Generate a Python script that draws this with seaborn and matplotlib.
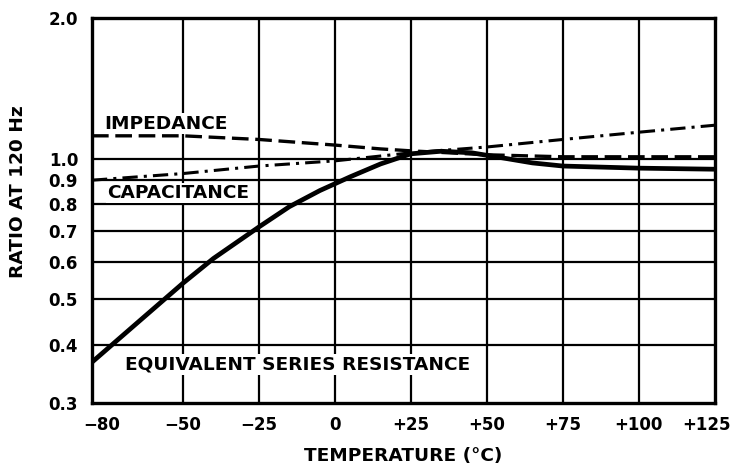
import numpy as np
import pandas as pd
import matplotlib
matplotlib.use('Agg')
import matplotlib.pyplot as plt
import matplotlib.transforms as mtransforms
import seaborn as sns

# ── Data ──────────────────────────────────────────────────────────────────────
esr_temp  = [-80, -70, -60, -50, -40, -25, -15, -5, 5, 15, 25, 35, 45, 55, 65, 75, 100, 125]
esr_ratio = [0.367, 0.418, 0.476, 0.542, 0.612, 0.715, 0.79, 0.855, 0.915, 0.975, 1.025,
             1.038, 1.03, 1.005, 0.98, 0.965, 0.955, 0.95]

imp_temp  = [-80, -50, -25, 0, 15, 25, 50, 75, 100, 125]
imp_ratio = [1.12, 1.12, 1.10, 1.07, 1.05, 1.04, 1.02, 1.01, 1.01, 1.01]

cap_temp  = [-80, -50, -25, 0, 25, 50, 75, 100, 125]
cap_ratio = [0.90, 0.93, 0.965, 0.99, 1.03, 1.06, 1.10, 1.14, 1.18]

x_ticks  = [-80, -50, -25, 0, 25, 50, 75, 100, 125]
x_labels = ['\u221280', '\u221250', '\u221225', '0', '+25', '+50', '+75', '+100', '+125']
y_ticks  = [0.3, 0.4, 0.5, 0.6, 0.7, 0.8, 0.9, 1.0, 2.0]
y_labels = ['0.3', '0.4', '0.5', '0.6', '0.7', '0.8', '0.9', '1.0', '2.0']

esr_df = pd.DataFrame({'temp': esr_temp, 'ratio': esr_ratio})
imp_df = pd.DataFrame({'temp': imp_temp, 'ratio': imp_ratio})
cap_df = pd.DataFrame({'temp': cap_temp, 'ratio': cap_ratio})

# ── Plot ──────────────────────────────────────────────────────────────────────
sns.set_style('white')
plt.rcParams['font.family'] = ['DejaVu Sans']
plt.rcParams['font.weight'] = 'bold'
for key in ['text.color', 'axes.labelcolor', 'xtick.color', 'ytick.color']:
    plt.rcParams[key] = 'black'
FS_TICK = 12
FS_TXT = 13.3

fig = plt.figure(figsize=(7.3, 4.66), dpi=100)
ax = fig.add_axes([0.126, 0.135, 0.853, 0.826])
ax.set_yscale('log')
ax.set_xlim(-80, 125)
ax.set_ylim(0.3, 2.0)

# grid lines (interior only)
for gx in x_ticks[1:-1]:
    ax.axvline(gx, color='black', lw=1.6, zorder=1)
for gy in y_ticks[1:-1]:
    ax.axhline(gy, color='black', lw=1.6, zorder=1)

sns.lineplot(data=esr_df, x='temp', y='ratio', ax=ax, color='black',
             lw=3.4, zorder=4)
sns.lineplot(data=imp_df, x='temp', y='ratio', ax=ax, color='black',
             lw=2.4, zorder=3, linestyle=(0, (5, 2)))
sns.lineplot(data=cap_df, x='temp', y='ratio', ax=ax, color='black',
             lw=2.2, zorder=3, linestyle=(0, (5, 2, 1, 2)))

ax.set_xticks(x_ticks)
ax.set_xticklabels(x_labels)
ax.set_yticks(y_ticks)
ax.set_yticklabels(y_labels)
ax.yaxis.set_minor_locator(matplotlib.ticker.NullLocator())
ax.tick_params(axis='x', length=0, labelsize=FS_TICK, pad=9)
ax.tick_params(axis='y', length=0, labelsize=FS_TICK, pad=10)
for lab in ax.get_xticklabels() + ax.get_yticklabels():
    lab.set_fontweight('bold')

# nudge end labels inward like the reference
xl = ax.get_xticklabels()
xl[0].set_transform(xl[0].get_transform() + mtransforms.ScaledTranslation(0.1, 0, fig.dpi_scale_trans))
xl[-1].set_transform(xl[-1].get_transform() + mtransforms.ScaledTranslation(-0.08, 0, fig.dpi_scale_trans))

for sp in ax.spines.values():
    sp.set_visible(True)
    sp.set_linewidth(2.4)
    sp.set_color('black')

box = dict(facecolor='white', edgecolor='none', pad=0.8)
ax.text(-76, 1.19, 'IMPEDANCE', fontsize=FS_TXT, fontweight='bold',
        va='center', ha='left', bbox=box, zorder=5)
ax.text(-75, 0.845, 'CAPACITANCE', fontsize=FS_TXT, fontweight='bold',
        va='center', ha='left', bbox=box, zorder=5)
ax.text(-69, 0.363, 'EQUIVALENT SERIES RESISTANCE', fontsize=FS_TXT, fontweight='bold',
        va='center', ha='left', bbox=box, zorder=5)

ax.set_xlabel('TEMPERATURE (\u00b0C)', fontsize=FS_TXT, fontweight='bold', labelpad=10)
ax.set_ylabel('RATIO AT 120 Hz', fontsize=FS_TXT, fontweight='bold')
ax.yaxis.set_label_coords(-0.105, 0.55)

fig.savefig('out.png', dpi=100)
